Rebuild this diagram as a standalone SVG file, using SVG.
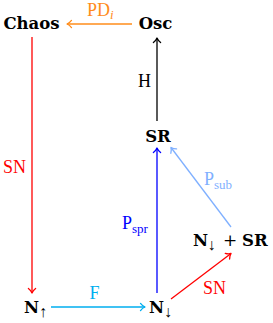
<svg xmlns="http://www.w3.org/2000/svg" width="273" height="323" viewBox="0 0 273 323">
<style>
.node{font-weight:bold;font-size:16.5px;fill:#000}
.lbl{font-size:18px}
.sub{font-size:13px;font-weight:normal}
.arr{font-size:16px;font-weight:normal}
.edge{fill:none;stroke-width:1.3}
.head{fill:none;stroke-width:1.3;stroke-linecap:round;stroke-linejoin:round}
</style>
<defs>
<marker id="mk-orange" markerUnits="userSpaceOnUse" orient="auto" refX="0" refY="0" markerWidth="10" markerHeight="10" overflow="visible"><path class="head" stroke="#ff8c1a" d="M-4.5,-3.6 C-3,-1.6 -1.2,-0.5 0,0 C-1.2,0.5 -3,1.6 -4.5,3.6"/></marker>
<marker id="mk-black" markerUnits="userSpaceOnUse" orient="auto" refX="0" refY="0" markerWidth="10" markerHeight="10" overflow="visible"><path class="head" stroke="#000" d="M-4.5,-3.6 C-3,-1.6 -1.2,-0.5 0,0 C-1.2,0.5 -3,1.6 -4.5,3.6"/></marker>
<marker id="mk-red" markerUnits="userSpaceOnUse" orient="auto" refX="0" refY="0" markerWidth="10" markerHeight="10" overflow="visible"><path class="head" stroke="#ff0000" d="M-4.5,-3.6 C-3,-1.6 -1.2,-0.5 0,0 C-1.2,0.5 -3,1.6 -4.5,3.6"/></marker>
<marker id="mk-blue" markerUnits="userSpaceOnUse" orient="auto" refX="0" refY="0" markerWidth="10" markerHeight="10" overflow="visible"><path class="head" stroke="#0000ff" d="M-4.5,-3.6 C-3,-1.6 -1.2,-0.5 0,0 C-1.2,0.5 -3,1.6 -4.5,3.6"/></marker>
<marker id="mk-cyan" markerUnits="userSpaceOnUse" orient="auto" refX="0" refY="0" markerWidth="10" markerHeight="10" overflow="visible"><path class="head" stroke="#00aeef" d="M-4.5,-3.6 C-3,-1.6 -1.2,-0.5 0,0 C-1.2,0.5 -3,1.6 -4.5,3.6"/></marker>
<marker id="mk-lblue" markerUnits="userSpaceOnUse" orient="auto" refX="0" refY="0" markerWidth="10" markerHeight="10" overflow="visible"><path class="head" stroke="#7fb0ff" d="M-4.5,-3.6 C-3,-1.6 -1.2,-0.5 0,0 C-1.2,0.5 -3,1.6 -4.5,3.6"/></marker>
</defs>
<rect width="273" height="323" fill="#fff"/>
<g id="connectors" font-family="'Liberation Serif', serif">
<g id="e-osc-chaos"><line class="edge" stroke="#ff8c1a" x1="132" y1="24" x2="67" y2="24" marker-end="url(#mk-orange)"/>
<text class="lbl" fill="#ff8c1a" x="87" y="16">PD<tspan class="sub" font-style="italic" dy="3">i</tspan></text></g>
<g id="e-sr-osc"><line class="edge" stroke="#000" x1="157" y1="121" x2="157" y2="38" marker-end="url(#mk-black)"/>
<text class="lbl" fill="#000" x="138" y="87">H</text></g>
<g id="e-chaos-nup"><line class="edge" stroke="#ff0000" x1="32" y1="37" x2="32" y2="293" marker-end="url(#mk-red)"/>
<text class="lbl" fill="#ff0000" x="3" y="173">SN</text></g>
<g id="e-nup-ndown"><line class="edge" stroke="#00aeef" x1="51" y1="307" x2="145" y2="307" marker-end="url(#mk-cyan)"/>
<text class="lbl" fill="#00aeef" x="94.5" y="298.5" text-anchor="middle">F</text></g>
<g id="e-ndown-sr"><line class="edge" stroke="#0000ff" x1="157" y1="293" x2="157" y2="148" marker-end="url(#mk-blue)"/>
<text class="lbl" fill="#0000ff" x="122" y="229">P<tspan class="sub" dy="4">spr</tspan></text></g>
<g id="e-ndown-nsr"><line class="edge" stroke="#ff0000" x1="171" y1="299" x2="231" y2="253.5" marker-end="url(#mk-red)"/>
<text class="lbl" fill="#ff0000" x="203" y="294">SN</text></g>
<g id="e-nsr-sr"><line class="edge" stroke="#7fb0ff" x1="231" y1="227" x2="171" y2="147.5" marker-end="url(#mk-lblue)"/>
<text class="lbl" fill="#7fb0ff" x="204" y="185">P<tspan class="sub" dy="4">sub</tspan></text></g>
</g>
<g font-family="'DejaVu Serif', serif">
<g id="chaos"><text class="node" x="31.5" y="29" text-anchor="middle">Chaos</text></g>
<g id="osc"><text class="node" x="155.5" y="29" text-anchor="middle">Osc</text></g>
<g id="sr"><text class="node" x="158" y="142" text-anchor="middle">SR</text></g>
<g id="n-up"><text class="node" x="24" y="313">N<tspan class="arr" font-family="'Liberation Serif', serif" x="39" dy="4">↑</tspan></text></g>
<g id="n-down"><text class="node" x="149" y="313">N<tspan class="arr" font-family="'Liberation Serif', serif" x="164" dy="4">↓</tspan></text></g>
<g id="n-down-sr"><text class="node" x="193" y="246">N<tspan class="arr" font-family="'Liberation Serif', serif" x="207.5" dy="4">↓</tspan><tspan font-weight="normal" font-size="17" x="223" dy="-4">+</tspan><tspan x="242">SR</tspan></text></g>
</g>
</svg>
